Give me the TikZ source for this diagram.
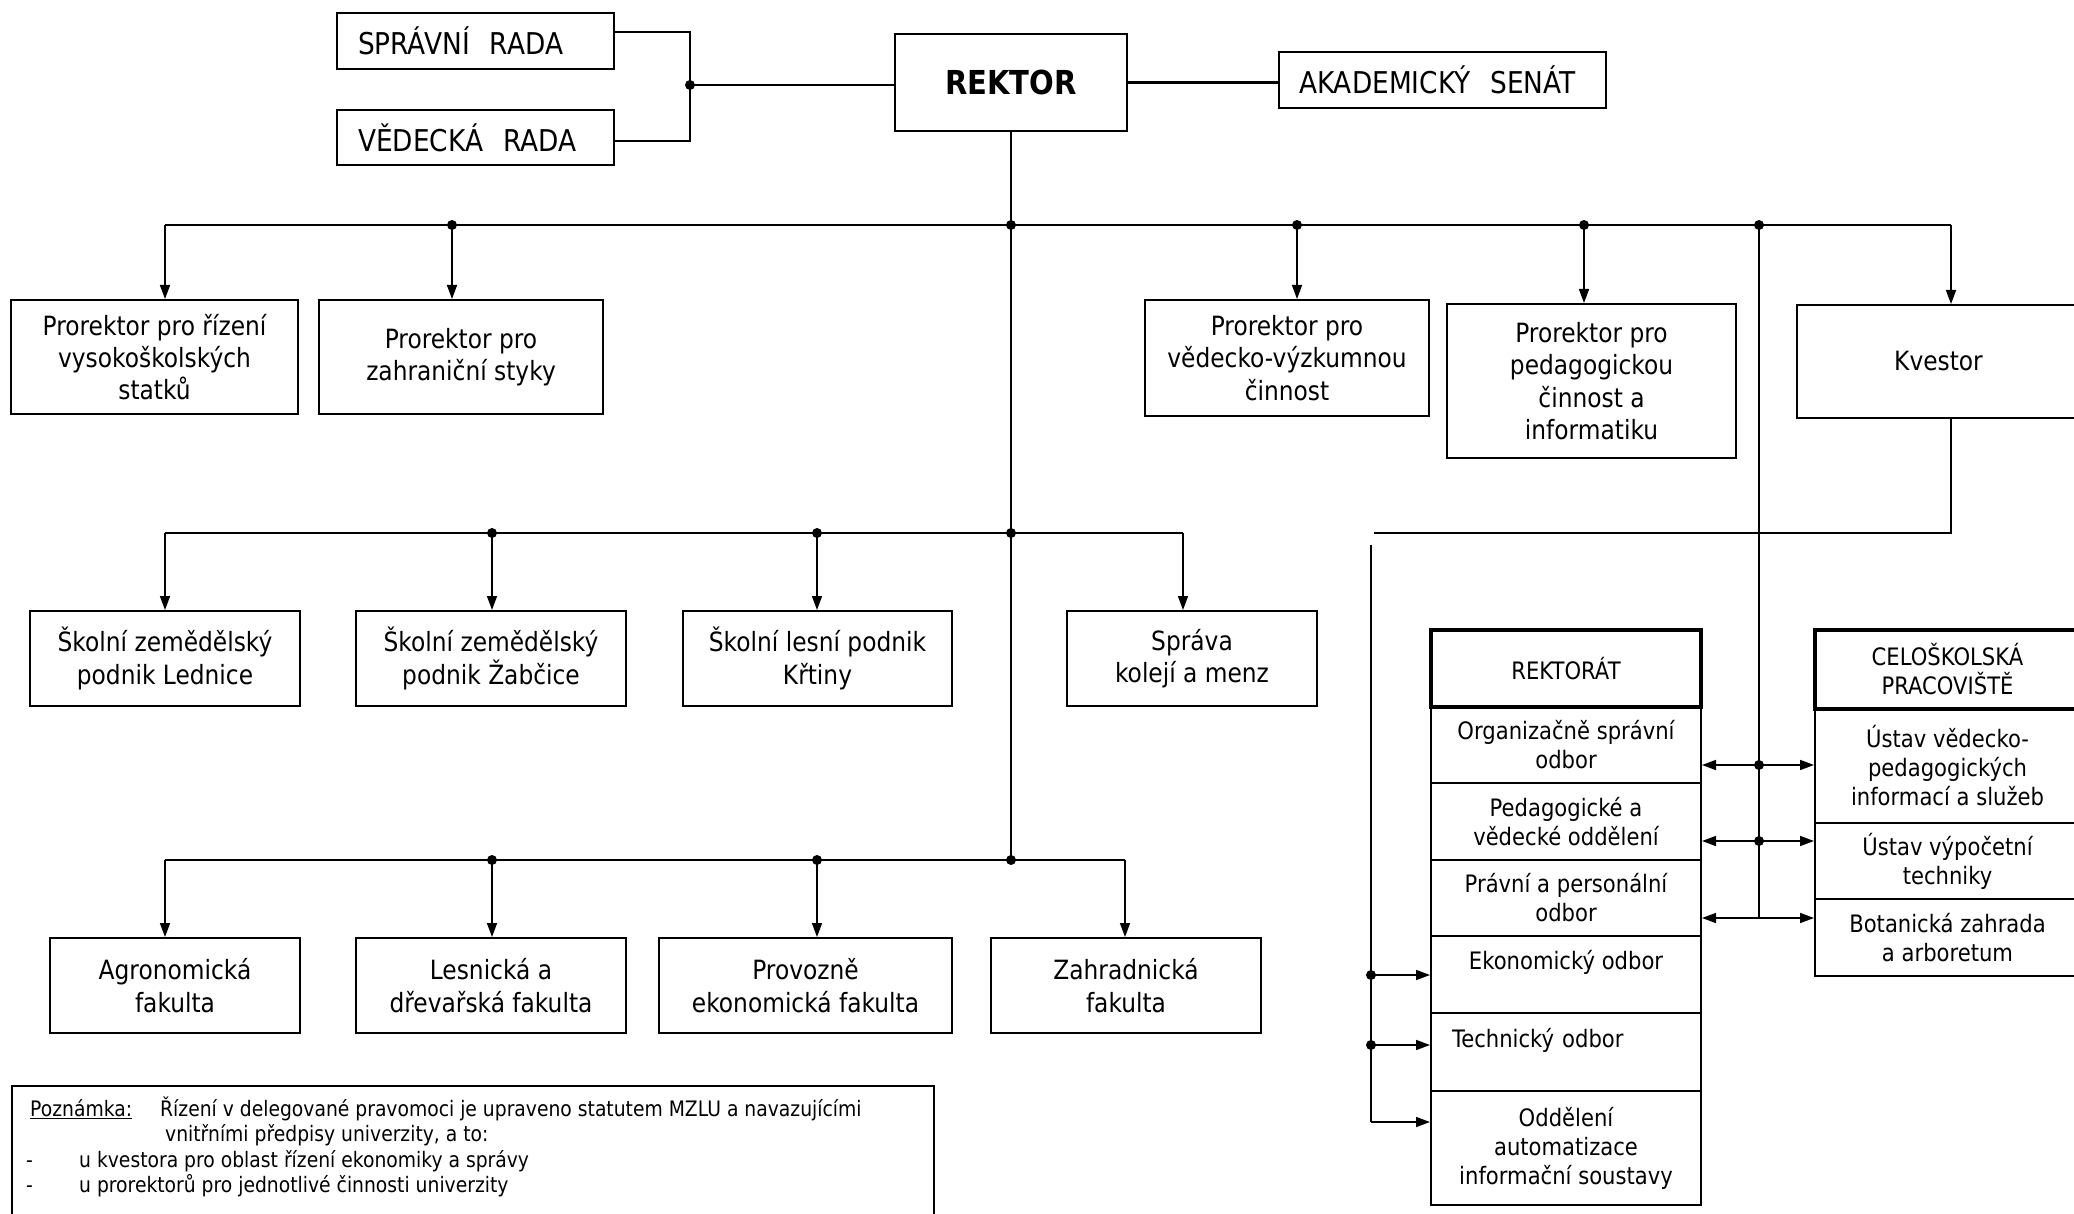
\documentclass[tikz,border=0pt]{standalone}
\usepackage{fontspec}
\setmainfont{DejaVu Sans}[FakeStretch=0.88]
\usetikzlibrary{arrows.meta}
\tikzset{
 box/.style={draw, line width=2pt, align=center, inner sep=0pt, font=\fontsize{26.5}{32.4}\selectfont},
 hdr/.style={box, line width=4pt, font=\fontsize{24}{29}\selectfont},
 cell/.style={box, font=\fontsize{24}{29}\selectfont},
 lbl/.style={box, align=left, inner xsep=21pt, font=\fontsize{30}{36}\selectfont},
 bus/.style={line width=2.6pt},
 conn/.style={line width=1.6pt},
 arr/.style={conn, -{Triangle[length=14pt,width=10pt]}},
 darr/.style={conn, {Triangle[length=14pt,width=10pt]}-{Triangle[length=14pt,width=10pt]}},
 jdot/.style={circle, fill=black, inner sep=0pt, minimum size=10pt},
 notetext/.style={anchor=base west, inner sep=0pt, font=\fontsize{21.3}{25.5}\selectfont},
}
\begin{document}
\begin{tikzpicture}[x=1pt, y=-1pt]
\useasboundingbox (0,0) rectangle (2074,1214);
% top
\node[lbl, text width=235pt, minimum height=56pt] (sr) at (475.5,41) {SPRÁVNÍ~~RADA};
\node[lbl, text width=235pt, minimum height=55pt] (vr) at (475.5,137.5) {VĚDECKÁ~~RADA};
\node[box, minimum width=232pt, minimum height=97pt, font=\fontsize{33}{40}\selectfont\bfseries] (rektor) at (1011,82.5) {REKTOR};
\node[lbl, inner xsep=20pt, text width=287pt, minimum height=56pt] (as) at (1442.5,80) {AKADEMICKÝ~~SENÁT};
% row 1
\node[box, minimum width=287pt, minimum height=114pt] (p1) at (154.5,357) {Prorektor pro řízení\\vysokoškolských\\statků};
\node[box, minimum width=284pt, minimum height=114pt] (p2) at (461,357) {Prorektor pro\\zahraniční styky};
\node[box, minimum width=284pt, minimum height=116pt] (p3) at (1287,358) {Prorektor pro\\vědecko-výzkumnou\\činnost};
\node[box, minimum width=289pt, minimum height=154pt] (p4) at (1591.5,381) {Prorektor pro\\pedagogickou\\činnost a\\informatiku};
\node[box, minimum width=283pt, minimum height=113pt] (kv) at (1938.5,361.5) {Kvestor};
% row 2
\node[box, minimum width=270pt, minimum height=95pt] (z1) at (165,658.5) {Školní zemědělský\\podnik Lednice};
\node[box, minimum width=270pt, minimum height=95pt] (z2) at (491,658.5) {Školní zemědělský\\podnik Žabčice};
\node[box, minimum width=269pt, minimum height=95pt] (z3) at (817.5,658.5) {Školní lesní podnik\\Křtiny};
\node[box, minimum width=250pt, minimum height=95pt] (sk) at (1192,658.5) {Správa\\kolejí a menz};
% row 3
\node[box, minimum width=250pt, minimum height=95pt] (f1) at (175,985.5) {Agronomická\\fakulta};
\node[box, minimum width=270pt, minimum height=95pt] (f2) at (491,985.5) {Lesnická a\\dřevařská fakulta};
\node[box, minimum width=293pt, minimum height=95pt] (f3) at (805.5,985.5) {Provozně\\ekonomická fakulta};
\node[box, minimum width=270pt, minimum height=95pt] (f4) at (1126,985.5) {Zahradnická\\fakulta};
% rektorat column
\node[hdr, minimum width=270pt, minimum height=77pt] (rh) at (1566,668.5) {REKTORÁT};
\node[cell, minimum width=270pt, minimum height=76pt] (r1) at (1566,745) {Organizačně správní\\odbor};
\node[cell, minimum width=270pt, minimum height=77pt] (r2) at (1566,821.5) {Pedagogické a\\vědecké oddělení};
\node[cell, minimum width=270pt, minimum height=76pt] (r3) at (1566,898) {Právní a personální\\odbor};
\node[cell, minimum width=270pt, minimum height=77pt] (r4) at (1566,974.5) {Ekonomický odbor\\\mbox{}};
\node[cell, align=left, inner xsep=21pt, text width=228pt, minimum height=78pt] (r5) at (1566,1052) {Technický odbor\\\mbox{}};
\node[cell, minimum width=270pt, minimum height=114pt] (r6) at (1566,1148) {Oddělení\\automatizace\\informační soustavy};
% celoskolska column
\node[hdr, minimum width=265pt, minimum height=79pt] (ch) at (1947.5,669.5) {CELOŠKOLSKÁ\\PRACOVIŠTĚ};
\node[cell, minimum width=265pt, minimum height=114pt] (c1) at (1947.5,766) {Ústav vědecko-\\pedagogických\\informací a služeb};
\node[cell, minimum width=265pt, minimum height=76pt] (c2) at (1947.5,861) {Ústav výpočetní\\techniky};
\node[cell, minimum width=265pt, minimum height=77pt] (c3) at (1947.5,937.5) {Botanická zahrada\\a arboretum};
% note
\node[draw, line width=2pt, minimum width=922pt, minimum height=140pt, anchor=north west, inner sep=0pt] (note) at (11,1085) {};
\node[notetext] (n1a) at (30,1116) {\underline{Poznámka:}};
\node[notetext] (n1b) at (160,1116) {Řízení v delegované pravomoci je upraveno statutem MZLU a navazujícími};
\node[notetext] (n2) at (165,1141) {vnitřními předpisy univerzity, a to:};
\node[notetext] (n3a) at (26,1167) {-};
\node[notetext] (n3b) at (79,1167) {u kvestora pro oblast řízení ekonomiky a správy};
\node[notetext] (n4a) at (26,1192) {-};
\node[notetext] (n4b) at (79,1192) {u prorektorů pro jednotlivé činnosti univerzity};
% coordinates
\coordinate (jt) at (690,85);
\coordinate (b1l) at (165,225); \coordinate (b1a) at (452,225); \coordinate (b1m) at (1011,225);
\coordinate (b1c) at (1297,225); \coordinate (b1d) at (1584,225); \coordinate (b1e) at (1759,225);
\coordinate (b1r) at (1951,225);
\coordinate (b2l) at (165,533); \coordinate (b2a) at (492,533); \coordinate (b2b) at (817,533);
\coordinate (b2m) at (1011,533); \coordinate (b2r) at (1183,533);
\coordinate (b3l) at (165,860); \coordinate (b3a) at (492,860); \coordinate (b3b) at (817,860);
\coordinate (b3m) at (1011,860); \coordinate (b3r) at (1125,860);
\coordinate (kvb) at (1951,533); \coordinate (kvl) at (1374,533);
\coordinate (lt) at (1371,545); \coordinate (l1) at (1371,975); \coordinate (l2) at (1371,1045); \coordinate (lb) at (1371,1122);
\coordinate (ra1) at (1759,765); \coordinate (ra2) at (1759,841); \coordinate (ra3) at (1759,918);
% top connectors
\draw[bus] ([yshift=9pt]sr.east) -| (jt) |- ([yshift=-3.5pt]vr.east);
\draw[bus] (jt) -- (jt -| rektor.west);
\draw[bus] (rektor.east) -- (rektor.east -| as.west);
\draw[conn] (rektor.south) -- (b3m);
% bus 1
\draw[bus] (b1l) -- (b1r);
\draw[arr] (b1l) -- (b1l |- p1.north);
\draw[arr] (b1a) -- (b1a |- p2.north);
\draw[arr] (b1c) -- (b1c |- p3.north);
\draw[arr] (b1d) -- (b1d |- p4.north);
\draw[arr] (b1r) -- (b1r |- kv.north);
% bus 2
\draw[bus] (b2l) -- (b2r);
\draw[arr] (b2l) -- (b2l |- z1.north);
\draw[arr] (b2a) -- (b2a |- z2.north);
\draw[arr] (b2b) -- (b2b |- z3.north);
\draw[arr] (b2r) -- (b2r |- sk.north);
% bus 3
\draw[bus] (b3l) -- (b3r);
\draw[arr] (b3l) -- (b3l |- f1.north);
\draw[arr] (b3a) -- (b3a |- f2.north);
\draw[arr] (b3b) -- (b3b |- f3.north);
\draw[arr] (b3r) -- (b3r |- f4.north);
% kvestor to rektorat
\draw[conn] (b1r |- kv.south) -- (kvb) -- (kvl);
\draw[conn] (lt) -- (lb);
\draw[arr] (l1) -- (l1 -| r4.west);
\draw[arr] (l2) -- (l2 -| r5.west);
\draw[arr] (lb) -- (lb -| r6.west);
% right trunk
\draw[conn] (b1e) -- (ra3);
\draw[darr] (ra1 -| r1.east) -- (ra1 -| c1.west);
\draw[darr] (ra2 -| r2.east) -- (ra2 -| c2.west);
\draw[darr] (ra3 -| r3.east) -- (ra3 -| c3.west);
% dots
\foreach \p in {jt,b1a,b1m,b1c,b1d,b1e,b2a,b2b,b2m,b3a,b3b,b3m,ra1,ra2,l1,l2}
  \node[jdot] at (\p) {};
\end{tikzpicture}
\end{document}
